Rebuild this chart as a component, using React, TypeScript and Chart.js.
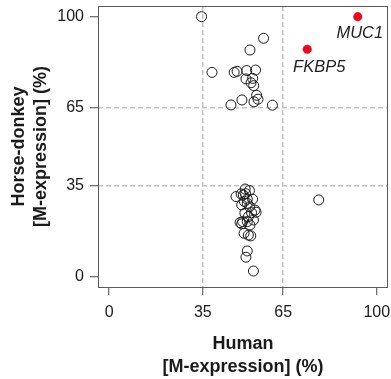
import React, { useEffect, useRef } from "react";
import { Chart, registerables } from "chart.js";

Chart.register(...registerables);

// ---- data ----
const humanPct: number[] = [
  34.5, 57.7, 52.6, 38.4, 46.7, 47.8, 51.4, 54.7, 51.1, 53.6, 53.0, 54.0, 55.1, 55.6, 54.1, 49.6, 45.5, 61.0,
  50.8, 52.4, 47.4, 50.1, 49.3, 51.6, 53.6, 49.5, 51.6, 54.5, 54.9, 53.2, 50.7, 52.0, 49.9, 48.9, 49.5, 51.6,
  53.9, 52.6, 50.4, 52.0, 52.9, 51.6, 51.1, 53.9, 78.3, 51.0, 50.5, 52.5,
];
const horseDonkeyPct: number[] = [
  100, 91.7, 87.2, 78.6, 78.6, 79.0, 79.3, 79.5, 76.1, 76.3, 74.6, 73.5, 69.8, 68.3, 67.3, 68.0, 66.1, 66.0,
  33.8, 33.2, 30.9, 31.5, 31.9, 29.9, 29.9, 27.7, 28.3, 25.7, 24.9, 24.7, 24.5, 23.2, 21.3, 20.9, 20.4, 21.3,
  21.9, 20.0, 16.8, 16.1, 15.8, 10.0, 7.6, 2.3, 29.6, 32.0, 29.0, 27.0,
];
const geneNames: string[] = ["MUC1", "FKBP5"];
const geneHuman: number[] = [92.9, 74.0];
const geneHorseDonkey: number[] = [100, 87.5];
const tickValues: number[] = [0, 35, 65, 100];
const gridValues: number[] = [35, 65];

const FONT = "'Liberation Sans', Arial, Helvetica, sans-serif";

export default function App() {
  const ref = useRef<HTMLCanvasElement | null>(null);

  useEffect(() => {
    const canvas = ref.current;
    if (!canvas) return;

    const boxPlugin = {
      id: "box",
      beforeDatasetsDraw(chart: any) {
        const { ctx, chartArea } = chart;
        ctx.save();
        ctx.strokeStyle = "#5a5a5a";
        ctx.lineWidth = 1;
        ctx.setLineDash([]);
        ctx.strokeRect(
          Math.round(chartArea.left) + 0.5,
          Math.round(chartArea.top) + 0.5,
          Math.round(chartArea.right - chartArea.left) - 1,
          Math.round(chartArea.bottom - chartArea.top)
        );
        ctx.restore();
      },
    };

    const labelOffsets = [
      { dx: 2, dy: 17 },
      { dx: 12, dy: 18 },
    ];
    const labelPlugin = {
      id: "geneLabels",
      afterDatasetsDraw(chart: any) {
        const meta = chart.getDatasetMeta(1);
        const { ctx } = chart;
        ctx.save();
        ctx.font = `italic 16.5px ${FONT}`;
        ctx.fillStyle = "#222";
        ctx.textAlign = "center";
        ctx.textBaseline = "middle";
        meta.data.forEach((el: any, i: number) => {
          const o = labelOffsets[i] || { dx: 0, dy: 16 };
          ctx.fillText(geneNames[i], el.x + o.dx, el.y + o.dy);
        });
        ctx.restore();
      },
    };

    const gridColor = (c: any) =>
      c.tick && gridValues.includes(c.tick.value) ? "#c2c2c2" : "rgba(0,0,0,0)";

    const chart = new Chart(canvas, {
      type: "scatter",
      data: {
        datasets: [
          {
            data: humanPct.map((x, i) => ({ x, y: horseDonkeyPct[i] })),
            pointRadius: 5,
            pointHoverRadius: 5,
            borderWidth: 1,
            borderColor: "#1a1a1a",
            backgroundColor: "rgba(0,0,0,0)",
          },
          {
            data: geneHuman.map((x, i) => ({ x, y: geneHorseDonkey[i] })),
            pointRadius: 4.3,
            pointHoverRadius: 4.3,
            borderWidth: 0.5,
            borderColor: "#e8091e",
            backgroundColor: "#e8091e",
          },
        ],
      },
      options: {
        animation: false,
        responsive: false,
        events: [],
        layout: { autoPadding: false, padding: { top: 6, right: 3, left: 0, bottom: 0 } },
        plugins: { legend: { display: false }, tooltip: { enabled: false } },
        scales: {
          x: {
            type: "linear",
            min: -4.2,
            max: 104.2,
            afterBuildTicks: (s: any) => {
              s.ticks = tickValues.map((v) => ({ value: v }));
            },
            afterFit: (s: any) => {
              s.height = 92;
              s.paddingLeft = 0;
              s.paddingRight = 0;
            },
            grid: {
              color: gridColor,
              lineWidth: 1.5,
              tickColor: "#444",
              tickLength: 8,
              tickWidth: 1,
              tickBorderDash: [],
            },
            border: { display: false, dash: [5, 3] },
            ticks: {
              color: "#1a1a1a",
              font: { family: FONT, size: 16 },
              padding: 8,
              maxRotation: 0,
              autoSkip: false,
            },
            title: {
              display: true,
              text: ["Human", "[M-expression] (%)"],
              color: "#1a1a1a",
              font: { family: FONT, size: 18, weight: "bold", lineHeight: 1.28 },
              padding: { top: 0, bottom: 0 },
            },
          },
          y: {
            type: "linear",
            min: -3.84,
            max: 104.1,
            afterBuildTicks: (s: any) => {
              s.ticks = tickValues.map((v) => ({ value: v }));
            },
            afterFit: (s: any) => {
              s.width = 98;
              s.paddingTop = 0;
              s.paddingBottom = 0;
            },
            grid: {
              color: gridColor,
              lineWidth: 1.5,
              tickColor: "#444",
              tickLength: 8,
              tickWidth: 1,
              tickBorderDash: [],
            },
            border: { display: false, dash: [5, 3] },
            ticks: {
              color: "#1a1a1a",
              font: { family: FONT, size: 16 },
              padding: 6,
              autoSkip: false,
            },
            title: {
              display: true,
              text: ["Horse-donkey", "[M-expression] (%)"],
              color: "#1a1a1a",
              font: { family: FONT, size: 18, weight: "bold", lineHeight: 1.22 },
              padding: { top: 8, bottom: 0 },
            },
          },
        },
      },
      plugins: [boxPlugin, labelPlugin],
    } as any);

    return () => chart.destroy();
  }, []);

  return (
    <div style={{ position: "fixed", left: 0, top: 0, width: 391, height: 379, background: "#fff" }}>
      <canvas ref={ref} width={391} height={379} style={{ display: "block", width: 391, height: 379 }} />
    </div>
  );
}
